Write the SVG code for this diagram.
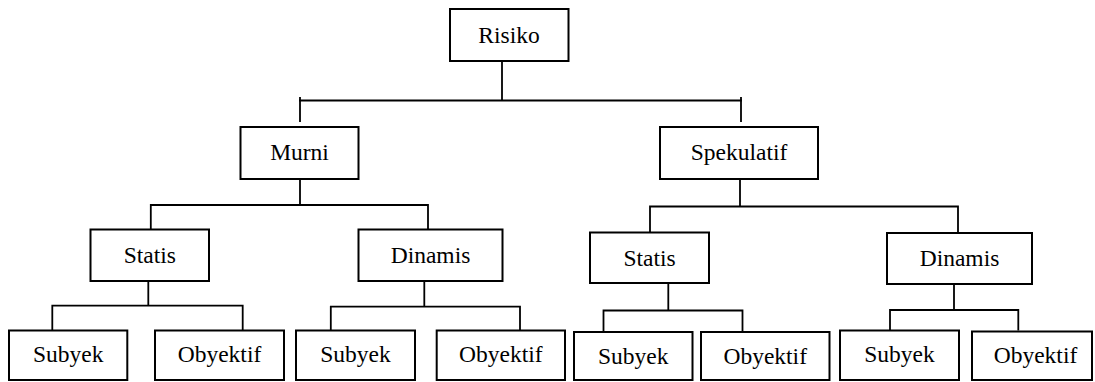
<svg xmlns="http://www.w3.org/2000/svg" width="1095" height="382" viewBox="0 0 1095 382">
<style>
rect{fill:#fff;stroke:#000;stroke-width:2}
text{font-family:"Times New Roman","Liberation Serif",Tinos,"DejaVu Serif","Noto Serif",serif;font-size:23.5px;fill:#000;text-anchor:middle}
#connectors path{fill:none;stroke:#000;stroke-width:1.8}
</style>
<rect x="0" y="0" width="1095" height="382" style="stroke:none"/>
<g id="connectors">
<path d="M502,61V100.5M300,122V97M741,122V97M299,100.5H742"/>
<path d="M300,179V205M150.8,229V205H428V229"/>
<path d="M740,179V206.5M650,233V206.5H958V233"/>
<path d="M148.3,281V305.7M52.3,330.5V305.7H242.7V330.5"/>
<path d="M424.3,281V306.7M330.8,330.5V306.7H520V330.5"/>
<path d="M668.3,283V310.5M603.5,332V310.5H742.5V332"/>
<path d="M954,284V310M890,330.5V310H1018.3V330.5"/>
</g>
<g id="risiko"><rect x="450" y="9" width="118.5" height="52"/><text x="509" y="43">Risiko</text></g>
<g id="murni"><rect x="240.5" y="127" width="118" height="52"/><text x="299.5" y="160">Murni</text></g>
<g id="spekulatif"><rect x="660" y="127" width="158" height="52"/><text x="739" y="160">Spekulatif</text></g>
<g id="statis1"><rect x="90.5" y="229.5" width="118.5" height="51.5"/><text x="149.8" y="263">Statis</text></g>
<g id="dinamis1"><rect x="358.5" y="229.5" width="144" height="51.5"/><text x="430.5" y="263">Dinamis</text></g>
<g id="statis2"><rect x="590" y="232.5" width="119" height="50.5"/><text x="649.5" y="265.5">Statis</text></g>
<g id="dinamis2"><rect x="887" y="233" width="145" height="51"/><text x="959.5" y="266">Dinamis</text></g>
<g id="subyek1"><rect x="9" y="330.5" width="118.3" height="49.5"/><text x="68.2" y="362">Subyek</text></g>
<g id="obyektif1"><rect x="155" y="330.5" width="129" height="49.5"/><text x="219.5" y="362">Obyektif</text></g>
<g id="subyek2"><rect x="296" y="330.5" width="119" height="49.5"/><text x="355.5" y="362">Subyek</text></g>
<g id="obyektif2"><rect x="436.7" y="330.5" width="128.3" height="49.5"/><text x="500.8" y="362">Obyektif</text></g>
<g id="subyek3"><rect x="574" y="332" width="118.5" height="48"/><text x="633.2" y="363.5">Subyek</text></g>
<g id="obyektif3"><rect x="701" y="332" width="128.5" height="48"/><text x="765.2" y="363.5">Obyektif</text></g>
<g id="subyek4"><rect x="840" y="330.5" width="119" height="49.5"/><text x="899.5" y="362">Subyek</text></g>
<g id="obyektif4"><rect x="972" y="331.5" width="120" height="48.5"/><text x="1035.5" y="363">Obyektif</text></g>
</svg>
